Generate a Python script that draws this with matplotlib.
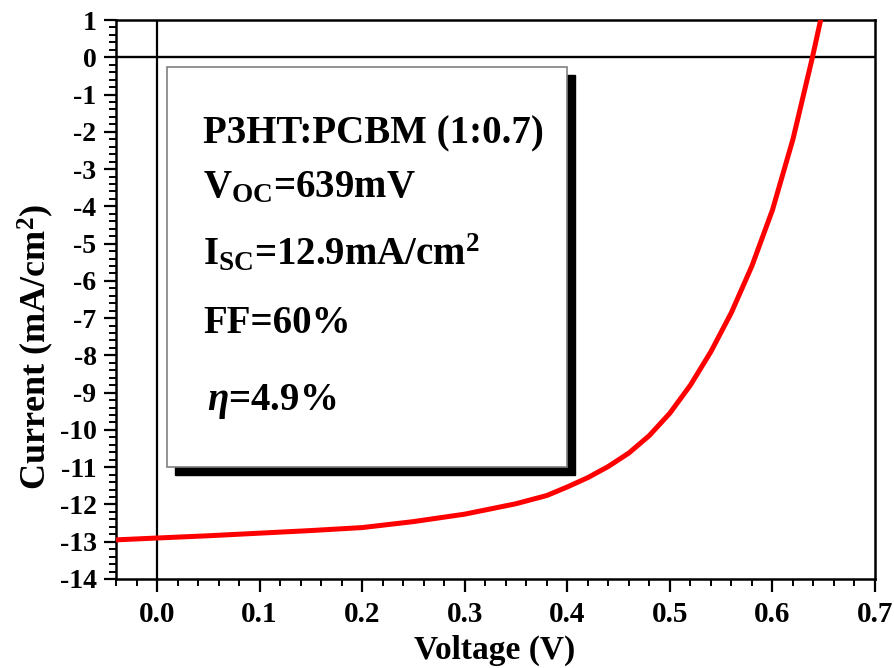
import numpy as np
import matplotlib
matplotlib.use("Agg")
from matplotlib import pyplot as plt
from matplotlib.patches import Rectangle
from matplotlib.ticker import MultipleLocator

# J-V curve
voltage = [-0.04, 0.0, 0.05, 0.1, 0.15, 0.2, 0.25, 0.3, 0.35, 0.38, 0.40, 0.42,
           0.44, 0.46, 0.48, 0.50, 0.52, 0.54, 0.56, 0.58, 0.60, 0.62, 0.639, 0.647]
current = [-12.95, -12.90, -12.84, -12.77, -12.70, -12.62, -12.46, -12.26, -11.98,
           -11.76, -11.53, -11.28, -10.98, -10.62, -10.15, -9.55, -8.80, -7.90,
           -6.85, -5.60, -4.10, -2.20, 0.0, 1.0]

info_lines = ["P3HT:PCBM (1:0.7)",
              r"V$_{\mathrm{OC}}$=639mV",
              r"I$_{\mathrm{SC}}$=12.9mA/cm$^{\mathrm{2}}$",
              "FF=60%",
              r"$\eta$=4.9%"]

plt.rcParams['font.family'] = 'Liberation Serif'
plt.rcParams['font.weight'] = 'bold'
plt.rcParams['mathtext.fontset'] = 'custom'
plt.rcParams['mathtext.rm'] = 'Liberation Serif:bold'
plt.rcParams['mathtext.bf'] = 'Liberation Serif:bold'
plt.rcParams['mathtext.it'] = 'Liberation Serif:italic'

W, H = 894, 668
fig = plt.figure(figsize=(W / 100, H / 100), dpi=100)
# axes box in pixels: left 116, right 875, top 20, bottom 579
ax = fig.add_axes([116 / W, 1 - 579 / H, (875 - 116) / W, (579 - 20) / H])

ax.plot(voltage, current, color='#ff0000', lw=3.6, solid_capstyle='round',
        solid_joinstyle='round', zorder=5)
ax.axhline(0, color='black', lw=1.7, zorder=3)
ax.axvline(0, color='black', lw=1.6, zorder=3)

ax.set_xlim(-0.04, 0.7)
ax.set_ylim(-14, 1)
ax.xaxis.set_minor_locator(MultipleLocator(0.02))
ax.yaxis.set_minor_locator(MultipleLocator(0.2))
ax.set_xticks(np.arange(0, 0.71, 0.1))
ax.set_xticklabels(['%.1f' % v for v in np.arange(0, 0.71, 0.1)])
ax.set_yticks(np.arange(-14, 2, 1))
ax.set_yticklabels(['%d' % v for v in np.arange(-14, 2, 1)])

for s in ax.spines.values():
    s.set_linewidth(1.8)
ax.tick_params(which='major', direction='out', length=9, width=1.6)
ax.tick_params(which='minor', direction='out', length=5, width=1.4)
ax.tick_params(axis='x', which='major', labelsize=21, pad=7)
ax.tick_params(axis='y', which='major', labelsize=20, pad=5)

# info box with shadow (axes fraction)
bx0, bx1 = 51 / 759, 451 / 759
by0, by1 = 112 / 559, 512 / 559
dx, dy = 8 / 759, 8 / 559
ax.add_patch(Rectangle((bx0 + dx, by0 - dy), bx1 - bx0, by1 - by0, transform=ax.transAxes,
                       facecolor='black', edgecolor='black', zorder=6))
ax.add_patch(Rectangle((bx0, by0), bx1 - bx0, by1 - by0, transform=ax.transAxes,
                       facecolor='white', edgecolor='#808080', lw=1.2, zorder=7))

ys = [0.780, 0.683, 0.562, 0.440, 0.302]
xs = [0.1146, 0.1146, 0.1146, 0.1146, 0.120]
for t, x, y in zip(info_lines, xs, ys):
    ax.text(x, y, t, transform=ax.transAxes, fontsize=28, fontweight='bold',
            va='baseline', ha='left', zorder=8)

fig.text(495 / W, 1 - 650 / H, 'Voltage (V)', fontsize=24, fontweight='bold',
         ha='center', va='center')
fig.text(36 / W, 1 - 347 / H, r'Current (mA/cm$^{\mathrm{2}}$)', fontsize=26,
         fontweight='bold', rotation=90, ha='center', va='center')

fig.savefig('out.png', dpi=100)
